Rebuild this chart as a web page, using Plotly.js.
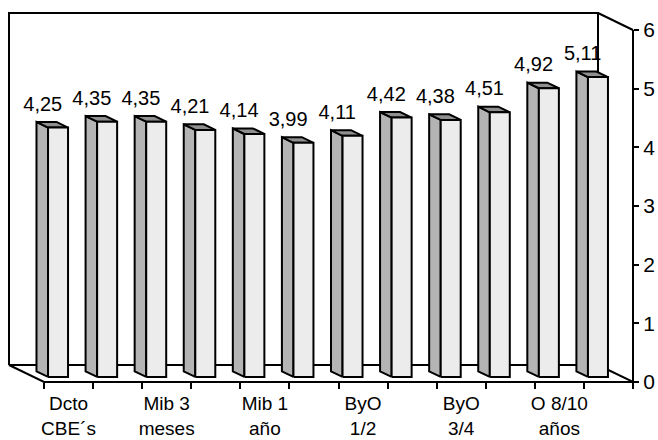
<!DOCTYPE html>
<html>
<head>
<meta charset="utf-8">
<script src="https://cdn.plot.ly/plotly-3.0.1.min.js"></script>
<style>html,body{margin:0;padding:0;background:#fff;}#chart{width:658px;height:440px;}</style>
</head>
<body>
<div id="chart"></div>
<script>
// ---- data ----
var values = [4.25, 4.35, 4.35, 4.21, 4.14, 3.99, 4.11, 4.42, 4.38, 4.51, 4.92, 5.11];
var labelCats = [0, 2, 4, 6, 8, 10];
var labelText = ["Dcto<br>CBE´s", "Mib 3<br>meses", "Mib 1<br>año", "ByO<br>1/2", "ByO<br>3/4", "O 8/10<br>años"];
var yTicks = [0, 1, 2, 3, 4, 5, 6];

// ---- geometry (pseudo-3D projection in data units) ----
var PX_X = 49.08, PX_Y = 58.67;           // pixels per data unit
var DXu = 35 / PX_X, DYu = 17 / PX_Y;     // full floor depth offset
var dF = 0.3, dB = 0.63;                  // bar front/back depth fraction
var hw = 10 / PX_X;                       // half bar width
var n = values.length;
var xMin = -0.5, xMax = n - 0.5, yTop = 6;

var FONT = "Liberation Sans, Arial, sans-serif";
var LINE = {color: "#000", width: 2};

// frame (back wall + floor + front right edge)
var bx0 = xMin - DXu, bx1 = xMax - DXu;
var frameX = [bx0, bx0, bx1, bx1, null,
              bx0, bx1, null,
              bx0, xMin, xMax, null,
              bx1, xMax, xMax, null,
              bx1, xMax];
var frameY = [DYu, yTop + DYu, yTop + DYu, DYu, null,
              DYu, DYu, null,
              DYu, 0, 0, null,
              DYu, 0, yTop, null,
              yTop + DYu, yTop];

var sideX = [], sideY = [], topX = [], topY = [], frontX = [], frontY = [];
var lblX = [], lblY = [], lblT = [];
values.forEach(function (v, i) {
  var fl = i - hw - dF * DXu, fr = i + hw - dF * DXu;
  var bl = i - hw - dB * DXu, br = i + hw - dB * DXu;
  var fb = dF * DYu, bb = dB * DYu, ft = v + fb, bt = v + bb;
  sideX.push(fl, fl, bl, bl, fl, null); sideY.push(fb, ft, bt, bb, fb, null);
  topX.push(fl, fr, br, bl, fl, null);  topY.push(ft, ft, bt, bt, ft, null);
  frontX.push(fl, fr, fr, fl, fl, null); frontY.push(fb, fb, ft, ft, fb, null);
  lblX.push(i - dF * DXu - 15.3 / PX_X);
  lblY.push(ft + 22 / PX_Y);
  lblT.push(v.toFixed(2).replace(".", ","));
});

var traces = [
  {x: frameX, y: frameY, mode: "lines", line: LINE, hoverinfo: "skip", showlegend: false},
  {x: sideX, y: sideY, mode: "lines", fill: "toself", fillcolor: "#b4b4b4", line: LINE, hoverinfo: "skip", showlegend: false},
  {x: topX, y: topY, mode: "lines", fill: "toself", fillcolor: "#8f8f8f", line: LINE, hoverinfo: "skip", showlegend: false},
  {x: frontX, y: frontY, mode: "lines", fill: "toself", fillcolor: "#ececec", line: LINE, hoverinfo: "skip", showlegend: false},
  {x: lblX, y: lblY, text: lblT, mode: "text", textposition: "middle center",
   textfont: {family: FONT, size: 20, color: "#000"}, hoverinfo: "skip", showlegend: false, cliponaxis: false}
];

// plot area in pixels: l=5, r=21, t=9, b=54  -> x 5..637, y 9..386
var padPx = 4;
var xr = [bx0 - padPx / PX_X, xMax + padPx / PX_X];
var yr = [-padPx / PX_Y, yTop + DYu + padPx / PX_Y];
var plotW = 632, plotH = 377;

var boundaries = [];
for (var k = 0; k <= n; k++) boundaries.push(k - 0.5);

var layout = {
  width: 658, height: 440,
  margin: {l: 5, r: 21, t: 9, b: 54, pad: 0},
  paper_bgcolor: "#fff", plot_bgcolor: "#fff",
  showlegend: false,
  xaxis: {
    range: xr, anchor: "free", position: padPx / plotH,
    showgrid: false, zeroline: false, showline: false,
    tickmode: "array", tickvals: labelCats, ticktext: labelText, ticks: "",
    ticklabelstandoff: 8,
    tickfont: {family: FONT, size: 19, color: "#000"},
    minor: {tickmode: "array", tickvals: boundaries, ticks: "outside", ticklen: 6, tickwidth: 2, tickcolor: "#000", showgrid: false},
    fixedrange: true
  },
  yaxis: {
    range: yr, anchor: "free", side: "right", position: (plotW - padPx) / plotW,
    showgrid: false, zeroline: false, showline: false,
    tickmode: "array", tickvals: yTicks, ticks: "outside", ticklen: 5, tickwidth: 2, tickcolor: "#000",
    tickfont: {family: FONT, size: 21, color: "#000"},
    fixedrange: true
  }
};

Plotly.newPlot("chart", traces, layout, {displayModeBar: false, staticPlot: true});
</script>
</body>
</html>
